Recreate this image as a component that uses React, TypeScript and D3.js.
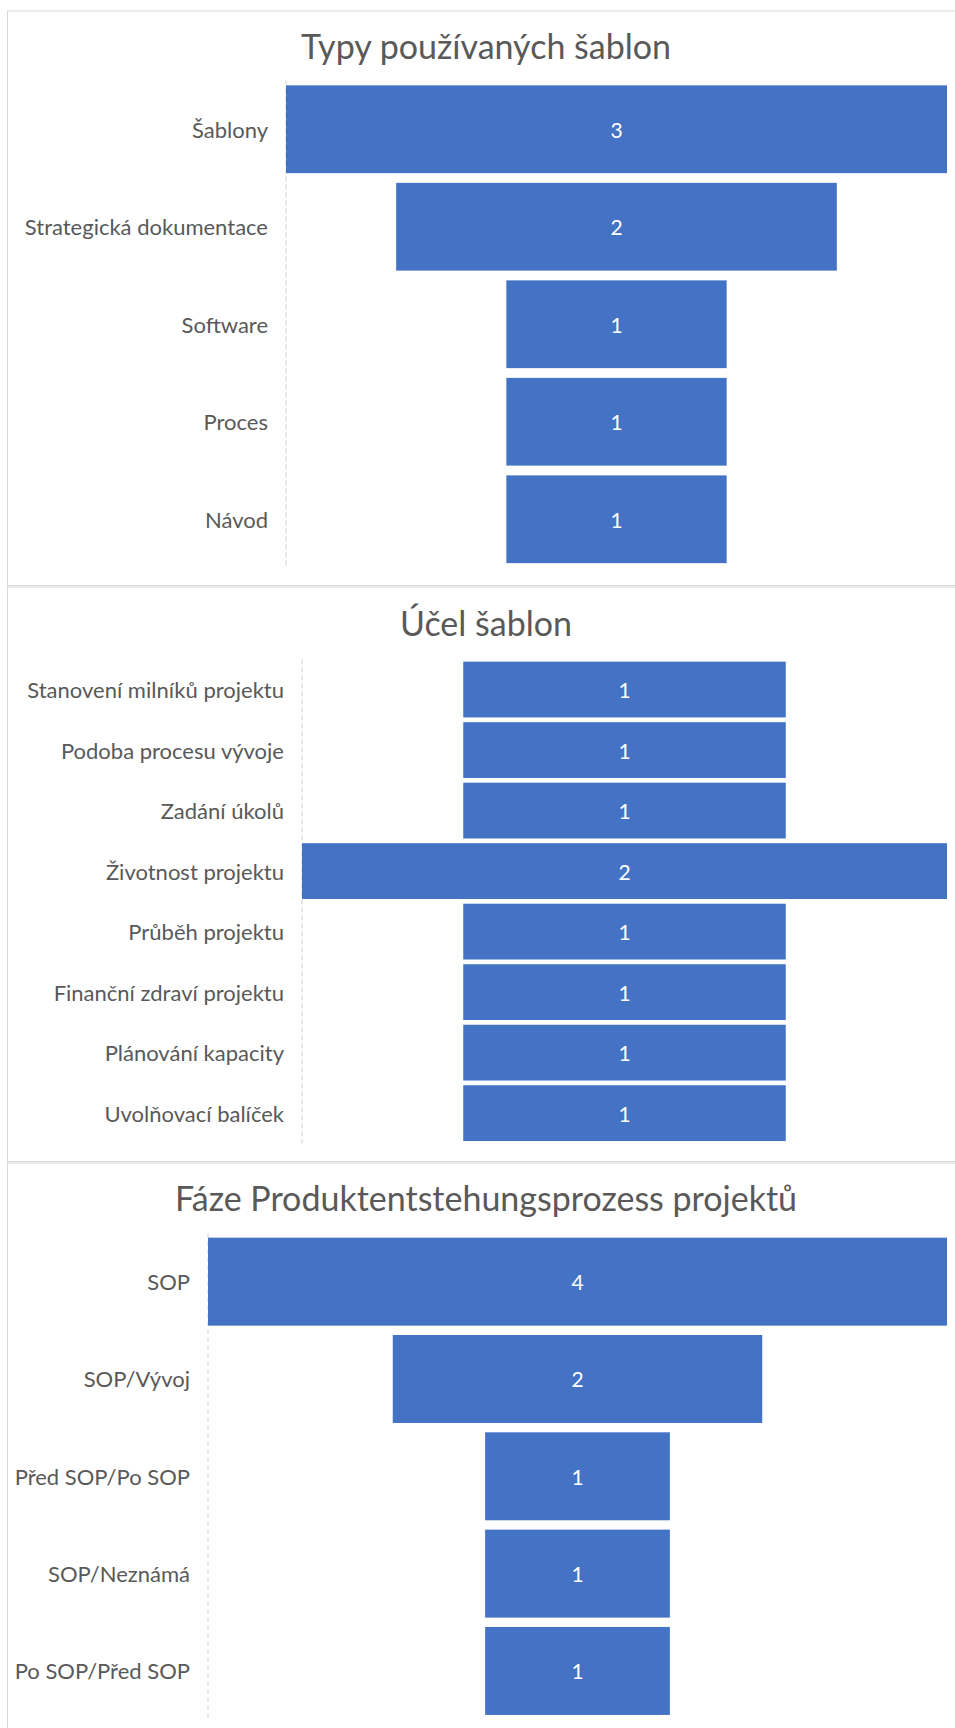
import React from "react";
import * as d3 from "d3";

const typesTitle = "Typy používaných šablon";
const typesCategories = ["Šablony", "Strategická dokumentace", "Software", "Proces", "Návod"];
const typesValues = [3, 2, 1, 1, 1];

const purposeTitle = "Účel šablon";
const purposeCategories = [
  "Stanovení milníků projektu",
  "Podoba procesu vývoje",
  "Zadání úkolů",
  "Životnost projektu",
  "Průběh projektu",
  "Finanční zdraví projektu",
  "Plánování kapacity",
  "Uvolňovací balíček",
];
const purposeValues = [1, 1, 1, 2, 1, 1, 1, 1];

const phaseTitle = "Fáze Produktentstehungsprozess projektů";
const phaseCategories = ["SOP", "SOP/Vývoj", "Před SOP/Po SOP", "SOP/Neznámá", "Po SOP/Před SOP"];
const phaseValues = [4, 2, 1, 1, 1];

const FONT = "Lato, 'Open Sans', sans-serif";
const TEXT = "#595959";
const BAR = "#4472C4";

type PanelProps = {
  title: string;
  categories: string[];
  values: number[];
  boxTop: number;
  boxBottom: number;
  titleY: number;
  axisX: number;
  plotRight: number;
  plotTop: number;
  plotBottom: number;
  pad: number;
};

function FunnelPanel(p: PanelProps) {
  const y = d3
    .scaleBand<string>()
    .domain(p.categories)
    .range([p.plotTop, p.plotBottom])
    .paddingInner(p.pad)
    .paddingOuter(p.pad / 2);
  const max = d3.max(p.values) ?? 1;
  const w = d3.scaleLinear().domain([0, max]).range([0, p.plotRight - p.axisX]);
  const cx = (p.axisX + p.plotRight) / 2;
  return (
    <g>
      <rect x={7.5} y={p.boxTop} width={957} height={p.boxBottom - p.boxTop} fill="#fff" stroke="#d9d9d9" strokeWidth={1} />
      <text x={486} y={p.titleY} textAnchor="middle" fontFamily={FONT} fontSize={34} fill={TEXT}>
        {p.title}
      </text>
      <line
        x1={p.axisX}
        x2={p.axisX}
        y1={p.plotTop}
        y2={p.plotBottom}
        stroke="#d0d0d0"
        strokeWidth={1}
        strokeDasharray="5 3"
      />
      {p.categories.map((c, i) => {
        const v = p.values[i];
        const bw = w(v);
        const by = y(c) ?? 0;
        const bh = y.bandwidth();
        return (
          <g key={c}>
            <rect x={cx - bw / 2} y={by} width={bw} height={bh} fill={BAR} />
            <text
              x={cx}
              y={by + bh / 2}
              textAnchor="middle"
              dominantBaseline="central"
              fontFamily={FONT}
              fontSize={21}
              fill="#ffffff"
            >
              {v}
            </text>
            <text
              x={p.axisX - 18}
              y={by + bh / 2}
              textAnchor="end"
              dominantBaseline="central"
              fontFamily={FONT}
              fontSize={22}
              fill={TEXT}
            >
              {c}
            </text>
          </g>
        );
      })}
    </g>
  );
}

export default function App() {
  return (
    <svg
      width={955}
      height={1728}
      viewBox="0 0 955 1728"
      style={{ position: "absolute", left: 0, top: 0, display: "block", background: "#fff" }}
    >
      <rect x={0} y={0} width={955} height={1728} fill="#fff" />
      <FunnelPanel
        title={typesTitle}
        categories={typesCategories}
        values={typesValues}
        boxTop={11}
        boxBottom={585.5}
        titleY={59}
        axisX={286}
        plotRight={947}
        plotTop={80.5}
        plotBottom={568}
        pad={0.1}
      />
      <FunnelPanel
        title={purposeTitle}
        categories={purposeCategories}
        values={purposeValues}
        boxTop={587}
        boxBottom={1161.5}
        titleY={635.5}
        axisX={302}
        plotRight={947}
        plotTop={659.3}
        plotBottom={1143.4}
        pad={0.078}
      />
      <FunnelPanel
        title={phaseTitle}
        categories={phaseCategories}
        values={phaseValues}
        boxTop={1163}
        boxBottom={1760}
        titleY={1211}
        axisX={208}
        plotRight={947}
        plotTop={1233}
        plotBottom={1719.6}
        pad={0.096}
      />
    </svg>
  );
}
